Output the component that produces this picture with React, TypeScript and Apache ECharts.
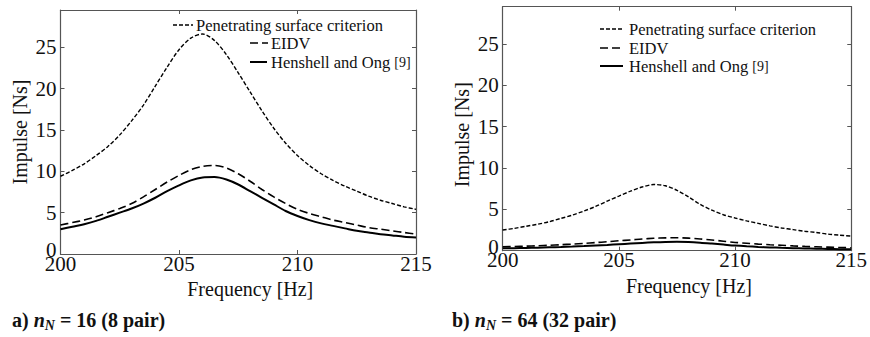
import React, { useEffect, useRef } from "react";
import * as echarts from "echarts";

const FREQ = [200, 200.5, 201, 201.5, 202, 202.5, 203, 203.5, 204, 204.5, 205, 205.5, 206, 206.5, 207, 207.5, 208, 208.5, 209, 209.5, 210, 210.5, 211, 211.5, 212, 212.5, 213, 213.5, 214, 214.5, 215];

const X_TICKS = [200, 205, 210, 215];
const Y_TICKS = [0, 5, 10, 15, 20, 25];

const SERIES_NAMES = ["Penetrating surface criterion", "EIDV", "Henshell and Ong"];
const REF_TAG = "[9]";

// (a) n_N = 16
const A_PEN = [9.4, 10.1, 10.9, 11.9, 13.0, 14.4, 16.1, 18.0, 20.3, 22.6, 24.7, 26.1, 26.6, 25.8, 24.1, 21.9, 19.6, 17.3, 15.2, 13.4, 11.9, 10.7, 9.7, 8.9, 8.2, 7.6, 7.0, 6.5, 6.1, 5.7, 5.4];
const A_EIDV = [3.5, 3.8, 4.1, 4.5, 5.0, 5.5, 6.1, 6.9, 7.8, 8.7, 9.5, 10.2, 10.6, 10.7, 10.4, 9.7, 8.8, 7.8, 6.9, 6.1, 5.4, 4.9, 4.5, 4.1, 3.8, 3.5, 3.2, 3.0, 2.8, 2.6, 2.4];
const A_HO = [3.0, 3.3, 3.6, 4.0, 4.5, 5.0, 5.5, 6.1, 6.8, 7.6, 8.3, 8.9, 9.25, 9.3, 9.0, 8.4, 7.6, 6.8, 6.0, 5.2, 4.6, 4.1, 3.7, 3.4, 3.1, 2.8, 2.6, 2.4, 2.25, 2.1, 2.0];

// (b) n_N = 64
const B_PEN = [2.5, 2.7, 2.95, 3.2, 3.5, 3.9, 4.3, 4.8, 5.35, 6.0, 6.6, 7.2, 7.7, 8.0, 7.85, 7.3, 6.5, 5.6, 4.9, 4.35, 3.95, 3.6, 3.3, 3.0, 2.75, 2.55, 2.35, 2.2, 2.0, 1.88, 1.76];
const B_EIDV = [0.48, 0.5, 0.55, 0.6, 0.65, 0.72, 0.8, 0.88, 0.98, 1.08, 1.2, 1.3, 1.42, 1.5, 1.55, 1.56, 1.52, 1.42, 1.3, 1.15, 1.0, 0.9, 0.8, 0.72, 0.65, 0.58, 0.52, 0.47, 0.43, 0.39, 0.36];
const B_HO = [0.29, 0.31, 0.34, 0.37, 0.41, 0.45, 0.5, 0.56, 0.63, 0.7, 0.78, 0.86, 0.94, 1.01, 1.06, 1.08, 1.05, 0.97, 0.86, 0.74, 0.62, 0.53, 0.46, 0.4, 0.35, 0.31, 0.27, 0.24, 0.21, 0.19, 0.17];

const SERIF = "Liberation Serif";
const AXIS_COLOR = "#555";
const INK = "#111";

const DASHES: (number[] | "solid")[] = [[4, 2], [8, 4], "solid"];
const WIDTHS = [1.4, 1.6, 2];

export default function App() {
  const ref = useRef<HTMLDivElement>(null);

  useEffect(() => {
    if (!ref.current) return;
    const chart = echarts.init(ref.current, undefined, { renderer: "svg" });

    const grids = [
      { left: 60.5, top: 10, width: 355.5, height: 244 },
      { left: 502.7, top: 6.7, width: 356.6, height: 244 },
    ];

    const xMin = X_TICKS[0];
    const xMax = X_TICKS[X_TICKS.length - 1];
    const xInt = X_TICKS[1] - X_TICKS[0];
    const yInt = Y_TICKS[1] - Y_TICKS[0];

    const xAxes: any[] = [];
    const yAxes: any[] = [];
    [0, 1].forEach((g) => {
      const common = {
        gridIndex: g,
        type: "value",
        min: xMin,
        max: xMax,
        interval: xInt,
        splitLine: { show: false },
        axisLine: { show: true, onZero: false, lineStyle: { color: AXIS_COLOR, width: 1.2 } },
        axisTick: { show: true, inside: true, length: 4, lineStyle: { color: AXIS_COLOR, width: 1 } },
      };
      xAxes.push({
        ...common,
        position: "bottom",
        axisLabel: { fontFamily: SERIF, fontSize: 21, color: INK, margin: -1 },
        name: "Frequency [Hz]",
        nameLocation: "middle",
        nameGap: 17,
        nameTextStyle: { fontFamily: SERIF, fontSize: 20, color: INK, padding: [0, 0, 0, 24] },
      });
      xAxes.push({ ...common, position: "top", axisLabel: { show: false } });

      const ycommon = {
        gridIndex: g,
        type: "value",
        min: 0,
        max: 29.5,
        interval: yInt,
        splitLine: { show: false },
        axisLine: { show: true, onZero: false, lineStyle: { color: AXIS_COLOR, width: 1.2 } },
        axisTick: { show: true, inside: true, length: 4, lineStyle: { color: AXIS_COLOR, width: 1 } },
      };
      yAxes.push({
        ...ycommon,
        position: "left",
        axisLabel: {
          fontFamily: SERIF,
          fontSize: 21,
          color: INK,
          margin: 4,
          showMaxLabel: false,
          formatter: (v: number) => (v === 0 ? "{z|0}" : String(v)),
          rich: { z: { fontFamily: SERIF, fontSize: 21, color: INK, padding: [0, 0, 8, 0] } },
        },
        name: "Impulse [Ns]",
        nameLocation: "middle",
        nameGap: 31,
        nameTextStyle: { fontFamily: SERIF, fontSize: 20, color: INK, padding: g === 1 ? [0, 12, 0, 0] : [0, 0, 0, 0] },
      });
      yAxes.push({ ...ycommon, position: "right", axisLabel: { show: false } });
    });

    const panels = [
      [A_PEN, A_EIDV, A_HO],
      [B_PEN, B_EIDV, B_HO],
    ];

    const series: any[] = [];
    panels.forEach((sets, g) => {
      sets.forEach((vals, k) => {
        series.push({
          type: "line",
          name: SERIES_NAMES[k],
          xAxisIndex: g * 2,
          yAxisIndex: g * 2,
          data: FREQ.map((f, i) => [f, vals[i]]),
          smooth: 0.3,
          showSymbol: false,
          lineStyle: { color: "#000", width: WIDTHS[k], type: DASHES[k] },
          silent: true,
        });
      });
    });

    const legendText = (k: number) =>
      k === 2 ? `${SERIES_NAMES[k]} {r|${REF_TAG}}` : SERIES_NAMES[k];

    const legendLayouts = [
      [
        { x1: 173, x2: 193, y: 25, tx: 196 },
        { x1: 250, x2: 268, y: 43, tx: 271 },
        { x1: 250, x2: 267, y: 62, tx: 271 },
      ],
      [
        { x1: 600, x2: 623, y: 29, tx: 629 },
        { x1: 600, x2: 623, y: 48, tx: 629 },
        { x1: 600, x2: 623, y: 66, tx: 629 },
      ],
    ];

    const graphic: any[] = [];
    legendLayouts.forEach((rows) => {
      rows.forEach((r, k) => {
        graphic.push({
          type: "line",
          shape: { x1: r.x1, y1: r.y, x2: r.x2, y2: r.y },
          style: { stroke: "#000", lineWidth: WIDTHS[k], lineDash: DASHES[k] === "solid" ? null : DASHES[k] },
          silent: true,
        });
        graphic.push({
          type: "text",
          x: r.tx,
          y: r.y,
          style: {
            text: legendText(k),
            fontFamily: SERIF,
            fontSize: 16.5,
            fill: INK,
            verticalAlign: "middle",
            rich: { r: { fontFamily: SERIF, fontSize: 14, fill: INK } },
          },
          silent: true,
        });
      });
    });

    const captions = [
      { x: 12, label: "a)", n: "16", pair: "8" },
      { x: 452, label: "b)", n: "64", pair: "32" },
    ];
    captions.forEach((c) => {
      graphic.push({
        type: "text",
        x: c.x,
        y: 320,
        style: {
          text: `{b|${c.label} }{i|n}{s|N}{b| = ${c.n} (${c.pair} pair)}`,
          verticalAlign: "middle",
          rich: {
            b: { fontFamily: SERIF, fontSize: 20, fontWeight: "bold", fill: INK },
            i: { fontFamily: SERIF, fontSize: 20, fontWeight: "bold", fontStyle: "italic", fill: INK },
            s: { fontFamily: SERIF, fontSize: 14, fontWeight: "bold", fontStyle: "italic", fill: INK, padding: [10, 0, 0, 0] },
          },
        },
        silent: true,
      });
    });

    chart.setOption({
      animation: false,
      backgroundColor: "#fff",
      grid: grids,
      xAxis: xAxes,
      yAxis: yAxes,
      series,
      graphic,
    });

    return () => chart.dispose();
  }, []);

  return (
    <div
      ref={ref}
      style={{ position: "absolute", left: 0, top: 0, width: 870, height: 337, background: "#fff" }}
    />
  );
}
